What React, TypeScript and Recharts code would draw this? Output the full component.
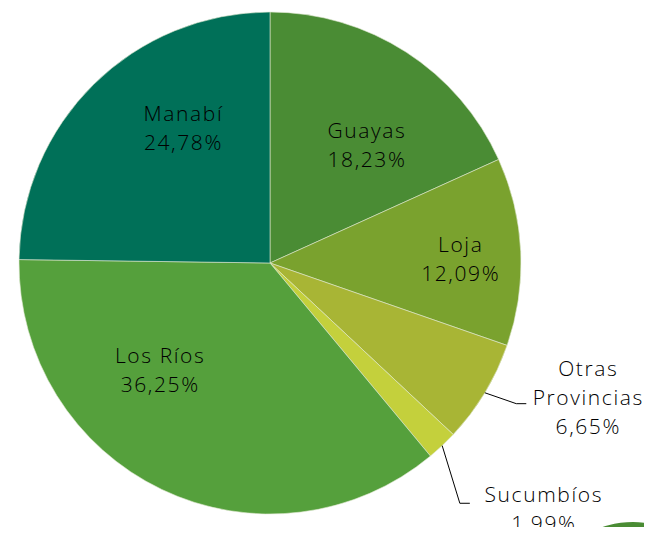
import { PieChart, Pie, Cell } from 'recharts';

const provinces = ['Guayas', 'Loja', 'Otras Provincias', 'Sucumbíos', 'Los Ríos', 'Manabí'];
const shares = [18.23, 12.09, 6.65, 1.99, 36.25, 24.78];
const shareLabels = ['18,23%', '12,09%', '6,65%', '1,99%', '36,25%', '24,78%'];
const labelLines = [['Guayas'], ['Loja'], ['Otras', 'Provincias'], ['Sucumbíos'], ['Los Ríos'], ['Manabí']];
const sliceColors = ['#4a8c34', '#7aa22e', '#a8b535', '#c4d03c', '#55a03c', '#007058'];

// label placement per slice: radius factor + angle shift from the slice's mid angle
const LABEL_PLACE = [
  { r: 0.61, da: -6.5 },
  { r: 0.76, da: -1.2 },
  { r: 1.13, da: 1.4, outside: true, tail: 10, tx: 72, ty: -7 },
  { r: 1.22, da: -5, outside: true, tail: 10, tx: 84, ty: 5 },
  { r: 0.61, da: -20.3 },
  { r: 0.64, da: -12 },
];

const data = provinces.map((name, i) => ({
  name,
  value: shares[i],
  pct: shareLabels[i],
  lines: labelLines[i],
}));

const RAD = Math.PI / 180;
const FONT = '"Open Sans", Lato, sans-serif';
const LINE_H = 29;

function renderLabel(props: any) {
  const { cx, cy, midAngle, outerRadius, index } = props;
  const place = LABEL_PLACE[index];
  const d = data[index];
  const textLines = [...d.lines, d.pct];
  const a = (midAngle + place.da) * RAD;
  const px = cx + outerRadius * place.r * Math.cos(a);
  const py = cy - outerRadius * place.r * Math.sin(a);

  let tx = px;
  let ty = py;
  let leader = null;
  if (place.outside) {
    const ex = cx + outerRadius * Math.cos(midAngle * RAD);
    const ey = cy - outerRadius * Math.sin(midAngle * RAD);
    leader = (
      <polyline
        points={`${ex},${ey} ${px},${py} ${px + place.tail},${py}`}
        fill="none"
        stroke="#000"
        strokeWidth={1}
      />
    );
    tx = px + place.tx;
    ty = py + place.ty;
  }
  const top = ty - ((textLines.length - 1) * LINE_H) / 2;
  return (
    <g key={`lbl-${index}`}>
      {leader}
      <text
        textAnchor="middle"
        fontFamily={FONT}
        fontSize={21}
        fontWeight={300}
        letterSpacing={1.6}
        fill="#000"
      >
        {textLines.map((t, j) => (
          <tspan key={j} x={tx} y={top + j * LINE_H} dominantBaseline="central">
            {t}
          </tspan>
        ))}
      </text>
    </g>
  );
}

export default function App() {
  return (
    <div style={{ margin: -8, width: 652, height: 535, overflow: 'hidden', background: '#fff' }}>
      <PieChart width={652} height={535} margin={{ top: 0, right: 0, bottom: 0, left: 0 }}>
        <Pie
          data={[{ name: 'deco', value: 1 }]}
          dataKey="value"
          cx={633}
          cy={617}
          outerRadius={95}
          fill="#4a8c34"
          stroke="none"
          isAnimationActive={false}
        />
        <Pie
          data={data}
          dataKey="value"
          cx={270}
          cy={263}
          outerRadius={251}
          startAngle={90}
          endAngle={-270}
          stroke="#dfe8d0"
          strokeWidth={0.6}
          label={renderLabel}
          labelLine={false}
          isAnimationActive={false}
        >
          {data.map((d, i) => (
            <Cell key={d.name} fill={sliceColors[i]} />
          ))}
        </Pie>
      </PieChart>
    </div>
  );
}
